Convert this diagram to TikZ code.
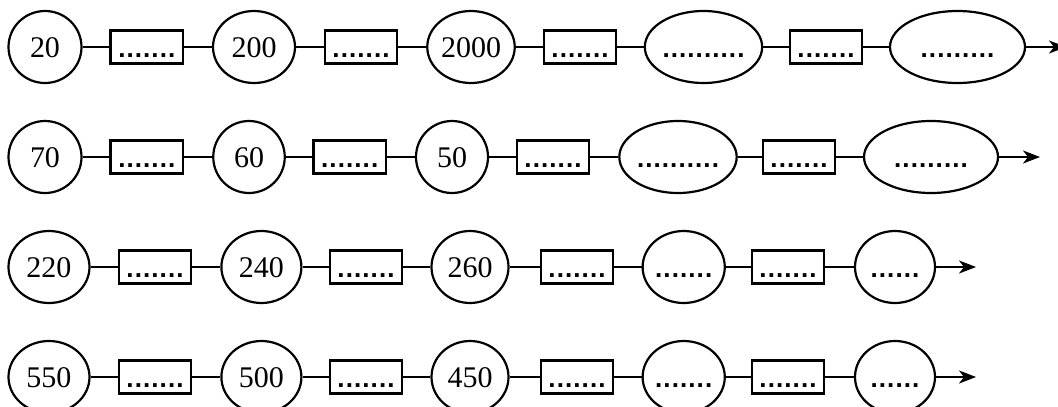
\documentclass[tikz,border=0pt]{standalone}
\usepackage{fontspec}
\setmainfont{Liberation Serif}
\newfontfamily\dotfont{Liberation Sans}
\usetikzlibrary{shapes.geometric,arrows.meta}
\newcommand{\dd}[1]{{\dotfont\bfseries\fontsize{26}{28}\selectfont\foreach \k in {1,...,#1}{\makebox[8.3pt]{.}}}}
\tikzset{
  every node/.style={font=\fontsize{30}{32}\selectfont, text height=20pt, text depth=0pt, inner sep=0pt},
  num/.style={draw, ellipse, line width=2.2pt, minimum height=72pt},
  blank/.style={draw, rectangle, line width=2.2pt, minimum height=33pt, minimum width=72.5pt},
  link/.style={line width=2.2pt},
  arr/.style={line width=2.2pt, -{Stealth[length=17pt,width=13pt,inset=5pt]}}
}
\begin{document}
\begin{tikzpicture}[x=1pt,y=-1pt]
\useasboundingbox (0,0) rectangle (1058,407);
% Row 1
\node[num, minimum width=73pt]  (a1) at (45,47)    {20};
\node[blank]                    (a2) at (146.8,47) {\dd{7}};
\node[num, minimum width=82pt]  (a3) at (254,47)   {200};
\node[blank]                    (a4) at (361,47)   {\dd{7}};
\node[num, minimum width=87.5pt](a5) at (471,47)   {2000};
\node[blank]                    (a6) at (580,47)   {\dd{7}};
\node[num, minimum width=115pt] (a7) at (703.5,47) {\dd{10}};
\node[blank]                    (a8) at (826,47)   {\dd{7}};
\node[num, minimum width=135pt] (a9) at (957.5,47) {\dd{9}};
\coordinate (a10) at (1066,47);
% Row 2
\node[num, minimum width=73pt]  (b1) at (45,157)    {70};
\node[blank]                    (b2) at (146.8,157) {\dd{7}};
\node[num, minimum width=71.5pt](b3) at (249,157)   {60};
\node[blank]                    (b4) at (349.7,157) {\dd{7}};
\node[num, minimum width=72pt]  (b5) at (452,157)   {50};
\node[blank]                    (b6) at (553,157)   {\dd{7}};
\node[num, minimum width=114.5pt](b7) at (678,157)  {\dd{10}};
\node[blank]                    (b8) at (799,157)   {\dd{7}};
\node[num, minimum width=134pt] (b9) at (931,157)   {\dd{9}};
\coordinate (b10) at (1040,157);
% Row 3
\node[num, minimum width=81pt]  (c1) at (49,267)    {220};
\node[blank]                    (c2) at (155,267)   {\dd{7}};
\node[num, minimum width=80pt]  (c3) at (261.4,267) {240};
\node[blank]                    (c4) at (366,267)   {\dd{7}};
\node[num, minimum width=77pt]  (c5) at (470,267)   {260};
\node[blank]                    (c6) at (577,267)   {\dd{7}};
\node[num, minimum width=80.5pt](c7) at (683.7,267) {\dd{7}};
\node[blank]                    (c8) at (788,267)   {\dd{7}};
\node[num, minimum width=80pt]  (c9) at (895,267)   {\dd{6}};
\coordinate (c10) at (976,267);
% Row 4
\node[num, minimum width=81pt]  (d1) at (49,377)    {550};
\node[blank]                    (d2) at (155,377)   {\dd{7}};
\node[num, minimum width=80pt]  (d3) at (261.4,377) {500};
\node[blank]                    (d4) at (366,377)   {\dd{7}};
\node[num, minimum width=77pt]  (d5) at (470,377)   {450};
\node[blank]                    (d6) at (577,377)   {\dd{7}};
\node[num, minimum width=80.5pt](d7) at (683.7,377) {\dd{7}};
\node[blank]                    (d8) at (788,377)   {\dd{7}};
\node[num, minimum width=80pt]  (d9) at (895,377)   {\dd{6}};
\coordinate (d10) at (976,377);
% connectors
\foreach \r in {a,b,c,d}{
  \foreach \i [evaluate=\i as \j using int(\i+1)] in {1,...,8}{
    \draw[link] (\r\i.east) -- (\r\j.west);
  }
  \draw[arr] (\r9.east) -- (\r10);
}
\end{tikzpicture}
\end{document}
